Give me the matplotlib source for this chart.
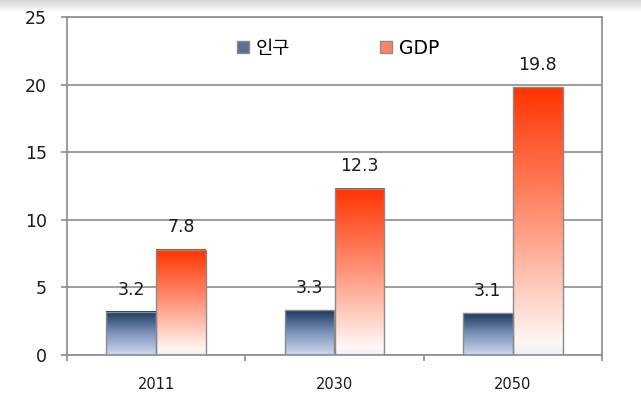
import numpy as np
import matplotlib
matplotlib.use('Agg')
import matplotlib.pyplot as plt
from matplotlib.colors import LinearSegmentedColormap
from matplotlib.patches import Patch

# Data
years = ['2011', '2030', '2050']
population = [3.2, 3.3, 3.1]
gdp = [7.8, 12.3, 19.8]
series_names = ['인구', 'GDP']

plt.rcParams['font.family'] = ['DejaVu Sans', 'Noto Sans CJK KR']

fig = plt.figure(figsize=(6.41, 3.97), dpi=100)

# grey shading at the very top of the screenshot
band = fig.add_axes([0, 1 - 12 / 397, 1, 12 / 397])
band.imshow(np.linspace(0, 1, 64).reshape(-1, 1), aspect='auto',
            cmap=LinearSegmentedColormap.from_list('band', ['#d4d4d4', '#ffffff']))
band.axis('off')

ax = fig.add_axes([67 / 641, 42 / 397, 535 / 641, 338 / 397])

blue_cmap = LinearSegmentedColormap.from_list(
    'blue', [(0, '#cdd9f0'), (0.5, '#7d93ba'), (1, '#1d3860')])
red_cmap = LinearSegmentedColormap.from_list(
    'red', [(0, '#edf2fb'), (0.05, '#fff6f3'), (0.5, '#ff957a'), (1, '#ff3300')])

width = 0.28
grad = np.linspace(0, 1, 256).reshape(-1, 1)
x = np.arange(len(years))

for values, offset, cmap in [(population, -width / 2, blue_cmap), (gdp, width / 2, red_cmap)]:
    for xi, v in zip(x, values):
        left = xi + offset - width / 2
        ax.imshow(grad, extent=(left, left + width, 0, v), origin='lower',
                  cmap=cmap, aspect='auto', zorder=2)
        ax.annotate(f'{v}', (xi + offset, v), xytext=(0, 16), textcoords='offset points',
                    ha='center', va='center', fontsize=12.5, color='#1a1a1a')
    ax.bar(x + offset, values, width, fill=False, edgecolor='#8a8a8a', linewidth=1.0, zorder=3)

ax.set_xlim(-0.5, 2.5)
ax.set_ylim(0, 25)
ax.set_yticks(range(0, 26, 5))
ax.set_xticks(x)
ax.set_xticklabels(years)
ax.set_xticks([-0.5, 0.5, 1.5, 2.5], minor=True)

ax.yaxis.grid(True, color='#8c8c8c', linewidth=1.2)
ax.set_axisbelow(True)
for sp in ax.spines.values():
    sp.set_color('#8c8c8c')
    sp.set_linewidth(1.2)

ax.tick_params(axis='y', length=4.5, width=1.2, color='#8c8c8c', pad=10,
               labelsize=12.5, labelcolor='#1a1a1a')
ax.tick_params(axis='x', which='major', length=0, pad=16, labelsize=10.5, labelcolor='#1a1a1a')
ax.tick_params(axis='x', which='minor', length=4.5, width=1.2, color='#8c8c8c')

handles = [Patch(facecolor='#5a6f98', edgecolor='#8c8c8c'),
           Patch(facecolor='#ff8466', edgecolor='#8c8c8c')]
ax.legend(handles, series_names, loc='center', bbox_to_anchor=(0.507, 0.908), ncol=2,
          frameon=False, fontsize=13.5, handlelength=0.64, handleheight=0.64,
          handletextpad=0.35, columnspacing=4.8)

fig.savefig('out.png', dpi=100)
